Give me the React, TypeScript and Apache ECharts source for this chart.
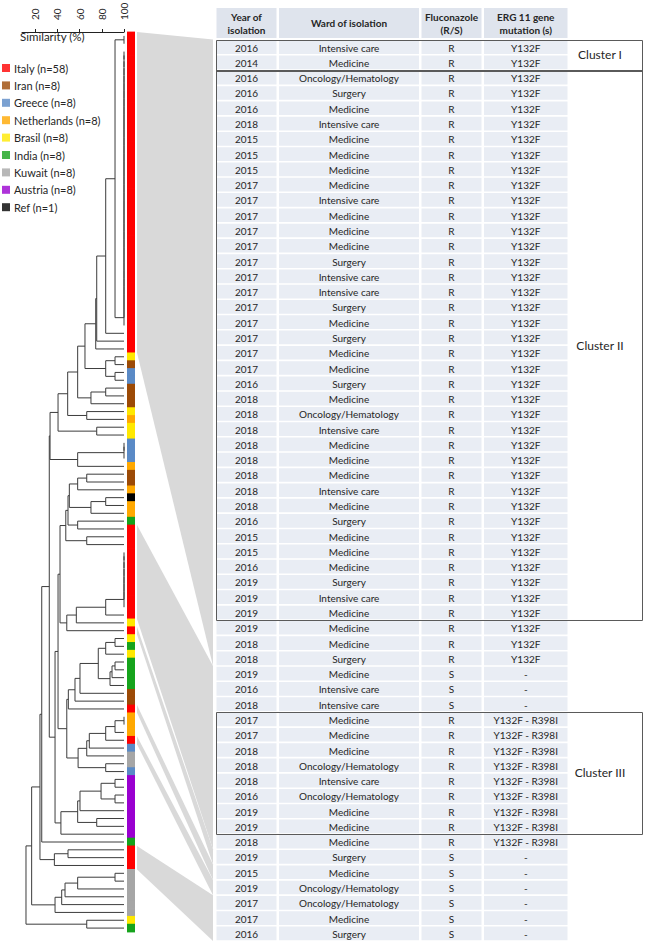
import React, { useEffect, useRef } from 'react';
import * as echarts from 'echarts';

const FONT = 'Lato, "Open Sans", sans-serif';

// ---------- legend / strip ----------
const COUNTRY_NAMES = ['Italy (n=58)', 'Iran (n=8)', 'Greece (n=8)', 'Netherlands (n=8)', 'Brasil (n=8)', 'India (n=8)', 'Kuwait (n=8)', 'Austria (n=8)', 'Ref (n=1)'];
const COUNTRY_COLORS = ['#ff0000', '#9c4a06', '#5a8ac6', '#ffa800', '#ffe800', '#16a31c', '#a6a6a6', '#9a00d0', '#000000'];

// [country index, number of consecutive isolates] from top to bottom of the colour strip
const STRIP_RUNS: [number, number][] = [
  [0, 41], [4, 1], [1, 1], [2, 2], [1, 3], [4, 1], [3, 1], [4, 2], [2, 3], [3, 1], [1, 2], [3, 1], [8, 1], [3, 2], [5, 1],
  [0, 12], [4, 1], [0, 1], [4, 1], [5, 1], [4, 1], [5, 4], [1, 2], [0, 1], [3, 3], [0, 1], [2, 1], [6, 2], [2, 1],
  [7, 8], [5, 1], [0, 3], [6, 6], [4, 1], [5, 1],
];

const SIM_TICKS = [20, 40, 60, 80, 100];

// ---------- dendrogram (similarity %, UPGMA-like) ----------
// node = [similarity, child, child, ...] ; 'L' = one isolate ; {same:n} = n identical isolates (100 %)
const L = 'L';
const TREE: any = [11.6,
  [16.7,
    [24.2,
      [25.8,
        [32.6,
          [33.3,
            [40.5,
              [49.2,
                [58.2,
                  [64.8,
                    [74.5, [75.4, [83.5, [91.9, [100, L, L], { same: 36 }], L], L], L],
                    [83.5, [91.9, L, L], [91.9, L, L]],
                  ],
                  [70.2, [83.5, L, L], L],
                ],
                [66.4, L, L],
              ],
              [75.4, L, L],
            ],
            [58.2, { same: 3 }, L],
          ],
          [37.8,
            [40.5,
              [42.3,
                [47.5,
                  [49.5,
                    [50.7, [58.2, [66.4, L, L], L], [70.2, [83.5, L, L], L]],
                    [58.2, L, L],
                  ],
                  [66.4, L, L],
                ],
                [48.4, [57.0, [83.5, { same: 8 }, L], L], L],
              ],
              [48.4,
                [49.8, [55.8, [60.3, [76.8, [83.5, [91.9, L, L], L], [87.4, [89.2, [91.9, L, L], L], L]], L], L], L],
                [58.6, [66.4, [68.7, [83.5, [91.9, [100, L, L], L], L], L], L], [83.5, L, L]],
              ],
            ],
            [43.1, [58.2, [60.3, [79.3, [91.9, L, L], [91.9, L, L]], L], [75.4, L, L]], L],
          ],
        ],
        L,
      ],
      [37.2, [49.5, L, L], L],
    ],
    [37.8, [43.8, [46.8, [58.2, [91.9, L, L], L], L], L], L],
  ],
  [66.4, L, L],
];

// ---------- table ----------
const HEADERS = ['Year of\nisolation', 'Ward of isolation', 'Fluconazole\n(R/S)', 'ERG 11 gene\nmutation (s)'];
const YEARS = ['2016', '2014', '2016', '2016', '2016', '2018', '2015', '2015', '2015', '2017', '2017', '2017', '2017', '2017', '2017', '2017', '2017', '2017', '2017', '2017', '2017', '2017', '2016', '2018', '2018', '2018', '2018', '2018', '2018', '2018', '2018', '2016', '2015', '2015', '2016', '2019', '2019', '2019', '2019', '2018', '2018', '2019', '2016', '2018', '2017', '2017', '2018', '2018', '2018', '2016', '2019', '2019', '2018', '2019', '2015', '2019', '2017', '2017', '2016'];
const WARDS = ['Intensive care', 'Medicine', 'Oncology/Hematology', 'Surgery', 'Medicine', 'Intensive care', 'Medicine', 'Medicine', 'Medicine', 'Medicine', 'Intensive care', 'Medicine', 'Medicine', 'Medicine', 'Surgery', 'Intensive care', 'Intensive care', 'Surgery', 'Medicine', 'Surgery', 'Medicine', 'Medicine', 'Surgery', 'Medicine', 'Oncology/Hematology', 'Intensive care', 'Medicine', 'Medicine', 'Medicine', 'Intensive care', 'Medicine', 'Surgery', 'Medicine', 'Medicine', 'Medicine', 'Surgery', 'Intensive care', 'Medicine', 'Medicine', 'Medicine', 'Surgery', 'Medicine', 'Intensive care', 'Intensive care', 'Medicine', 'Medicine', 'Medicine', 'Oncology/Hematology', 'Intensive care', 'Oncology/Hematology', 'Medicine', 'Medicine', 'Medicine', 'Surgery', 'Medicine', 'Oncology/Hematology', 'Oncology/Hematology', 'Medicine', 'Surgery'];
const FLUCO = ['R', 'R', 'R', 'R', 'R', 'R', 'R', 'R', 'R', 'R', 'R', 'R', 'R', 'R', 'R', 'R', 'R', 'R', 'R', 'R', 'R', 'R', 'R', 'R', 'R', 'R', 'R', 'R', 'R', 'R', 'R', 'R', 'R', 'R', 'R', 'R', 'R', 'R', 'R', 'R', 'R', 'S', 'S', 'S', 'R', 'R', 'R', 'R', 'R', 'R', 'R', 'R', 'R', 'S', 'S', 'S', 'S', 'S', 'S'];
const ERG11 = ['Y132F', 'Y132F', 'Y132F', 'Y132F', 'Y132F', 'Y132F', 'Y132F', 'Y132F', 'Y132F', 'Y132F', 'Y132F', 'Y132F', 'Y132F', 'Y132F', 'Y132F', 'Y132F', 'Y132F', 'Y132F', 'Y132F', 'Y132F', 'Y132F', 'Y132F', 'Y132F', 'Y132F', 'Y132F', 'Y132F', 'Y132F', 'Y132F', 'Y132F', 'Y132F', 'Y132F', 'Y132F', 'Y132F', 'Y132F', 'Y132F', 'Y132F', 'Y132F', 'Y132F', 'Y132F', 'Y132F', 'Y132F', '-', '-', '-', 'Y132F - R398I', 'Y132F - R398I', 'Y132F - R398I', 'Y132F - R398I', 'Y132F - R398I', 'Y132F - R398I', 'Y132F - R398I', 'Y132F - R398I', 'Y132F - R398I', '-', '-', '-', '-', '-', '-'];

const CLUSTER_NAMES = ['Cluster I', 'Cluster II', 'Cluster III'];
const CLUSTER_FROM = [0, 2, 44];
const CLUSTER_TO = [1, 37, 51];

// [first leaf, last leaf, first table row, last table row]
const LINKS = [[0, 40, 0, 40], [63, 74, 41, 52], [76, 76, 53, 53], [86, 86, 54, 54], [90, 90, 55, 55], [104, 106, 56, 58]];

// ---------- layout constants ----------
const TABLE_W = 427;
const COL_X = [[0.5, 60.5], [63, 203], [205.5, 265.5], [268, 351.5]];
const LABEL_X = 384;
const CELL_BG = '#e9edf4';
const HEAD_BG = '#dfe4ed';
const TXT = '#262626';

function buildLeaves() {
  const out: string[] = [];
  STRIP_RUNS.forEach(([c, n]) => { for (let k = 0; k < n; k++) out.push(COUNTRY_COLORS[c]); });
  return out;
}

function layoutTree(tree: any) {
  const segs: number[][] = [];
  let leaf = 0;
  const visit = (n: any): { s: number; y: number } => {
    if (n === L) { const y = leaf + 0.5; leaf++; return { s: 100, y }; }
    if (n && n.same) {
      let acc = visit(L);
      for (let k = 1; k < n.same; k++) {
        const b = visit(L);
        segs.push([100, acc.y, b.y, acc.s, b.s]);
        acc = { s: 100, y: (acc.y + b.y) / 2 };
      }
      return acc;
    }
    const [s, ...kids] = n;
    let acc = visit(kids[0]);
    for (let k = 1; k < kids.length; k++) {
      const b = visit(kids[k]);
      segs.push([s, acc.y, b.y, acc.s, b.s]);
      acc = { s, y: (acc.y + b.y) / 2 };
    }
    return acc;
  };
  visit(tree);
  return { segs, count: leaf };
}

export default function App() {
  const ref = useRef<HTMLDivElement>(null);
  useEffect(() => {
    const chart = echarts.init(ref.current!, null, { renderer: 'svg' });
    const leafColors = buildLeaves();
    const { segs } = layoutTree(TREE);
    const nLeaves = leafColors.length;
    const cols = [YEARS, WARDS, FLUCO, ERG11];

    const option: any = {
      animation: false,
      backgroundColor: '#ffffff',
      textStyle: { fontFamily: FONT },
      title: {
        text: 'Similarity (%)', left: 20, top: 30.5, padding: 0,
        textStyle: { fontFamily: FONT, fontSize: 11.5, fontWeight: 'normal', color: TXT },
      },
      legend: {
        orient: 'vertical', left: 2, top: 62.5, icon: 'rect', itemWidth: 8, itemHeight: 8, itemGap: 6.4,
        selectedMode: false, padding: 0,
        textStyle: { fontFamily: FONT, fontSize: 11, color: TXT, padding: [0, 0, 0, -1] },
        data: COUNTRY_NAMES,
      },
      grid: [
        { left: 22, top: 32, width: 102, height: 900, containLabel: false, outerBoundsMode: 'none' },
        { left: 127, top: 32, width: 8, height: 900, containLabel: false, outerBoundsMode: 'none' },
        { left: 216, top: 39.5, width: TABLE_W, height: 901.5, containLabel: false, outerBoundsMode: 'none' },
      ],
      xAxis: [
        {
          gridIndex: 0, type: 'value', min: 8, max: 100, position: 'top', offset: 8,
          axisLine: { show: true, lineStyle: { color: '#222', width: 1 } },
          axisTick: { show: true, length: 3, customValues: SIM_TICKS, lineStyle: { color: '#222' } },
          axisLabel: { customValues: SIM_TICKS, rotate: 90, margin: 4, fontSize: 10, fontFamily: FONT, color: TXT },
          splitLine: { show: false },
        },
        { gridIndex: 1, type: 'value', min: 0, max: 1, show: false },
        { gridIndex: 2, type: 'value', min: 0, max: TABLE_W, show: false },
      ],
      yAxis: [
        { gridIndex: 0, type: 'value', min: 0, max: nLeaves, inverse: true, show: false },
        { gridIndex: 1, type: 'category', inverse: true, show: false, data: leafColors.map((_, i) => 'leaf' + i) },
        { gridIndex: 2, type: 'category', inverse: true, show: false, data: YEARS.map((_, i) => 'row' + i) },
      ],
      series: [
        {
          type: 'custom', name: 'dendrogram', xAxisIndex: 0, yAxisIndex: 0, clip: false,
          encode: { x: [0, 3, 4], y: [1, 2] },
          data: segs,
          renderItem: (_p: any, api: any) => {
            const s = api.value(0), ya = api.value(1), yb = api.value(2), sa = api.value(3), sb = api.value(4);
            const pts = [api.coord([sa, ya]), api.coord([s, ya]), api.coord([s, yb]), api.coord([sb, yb])];
            return { type: 'polyline', shape: { points: pts }, style: { stroke: '#3c3c3c', lineWidth: 1, fill: null } };
          },
        },
        {
          type: 'custom', name: 'strip', xAxisIndex: 1, yAxisIndex: 1, clip: false,
          encode: { x: 0, y: 1 },
          data: leafColors.map((_, i) => [1, i]),
          renderItem: (params: any, api: any) => {
            const i = params.dataIndex;
            const p0 = api.coord([0, i]);
            const p1 = api.coord([1, i]);
            const h = api.size([0, 1])[1];
            const color = leafColors[i];
            return {
              type: 'rect',
              shape: { x: p0[0], y: p0[1] - h / 2 - 0.4, width: p1[0] - p0[0], height: h + 0.8 },
              style: { fill: color, stroke: null },
            };
          },
        },
        {
          type: 'custom', name: 'table', xAxisIndex: 2, yAxisIndex: 2, clip: false,
          encode: { x: 0, y: 1 },
          data: YEARS.map((_, i) => [0, i]),
          renderItem: (params: any, api: any) => {
            const r = params.dataIndex;
            const c = api.coord([0, r]);
            const h = api.size([0, 1])[1];
            const children: any[] = [];
            COL_X.forEach(([x0, x1], k) => {
              const a = api.coord([x0, r])[0];
              const b = api.coord([x1, r])[0];
              children.push({ type: 'rect', shape: { x: a, y: c[1] - h / 2 + 0.8, width: b - a, height: h - 1.6 }, style: { fill: CELL_BG } });
              children.push({
                type: 'text',
                style: { text: cols[k][r], x: (a + b) / 2, y: c[1] + 0.5, align: 'center', verticalAlign: 'middle', fontSize: 10, fontFamily: FONT, fill: TXT },
              });
            });
            return { type: 'group', children };
          },
        },
        {
          type: 'custom', name: 'clusters', xAxisIndex: 2, yAxisIndex: 2, clip: false,
          encode: { x: 0, y: 1 },
          data: CLUSTER_FROM.map((f, i) => [0, f, CLUSTER_TO[i]]),
          renderItem: (params: any, api: any) => {
            const i = params.dataIndex;
            const f = CLUSTER_FROM[i], t = CLUSTER_TO[i];
            const h = api.size([0, 1])[1];
            const p0 = api.coord([0, f]);
            const p1 = api.coord([TABLE_W, t]);
            const top = p0[1] - h / 2, bot = p1[1] + h / 2;
            const lx = api.coord([LABEL_X, f])[0];
            return {
              type: 'group',
              children: [
                { type: 'rect', shape: { x: Math.round(p0[0]) + 0.5, y: Math.round(top) + 0.5, width: Math.round(p1[0] - p0[0]) - 1, height: Math.round(bot - top) }, style: { fill: null, stroke: '#5a5a5a', lineWidth: 1 } },
                { type: 'text', style: { text: CLUSTER_NAMES[i], x: lx, y: (top + bot) / 2, align: 'center', verticalAlign: 'middle', fontSize: 12, fontFamily: FONT, fill: TXT } },
              ],
            };
          },
        },
        ...COUNTRY_NAMES.map((n, i) => ({ type: 'scatter', name: n, xAxisIndex: 0, yAxisIndex: 0, data: [], itemStyle: { color: COUNTRY_COLORS[i] } })),
      ],
    };
    chart.setOption(option);

    // connectors and header, positioned through the axes
    const xL = (chart.convertToPixel({ xAxisIndex: 1 } as any, 1) as any) + 2;
    const xR = (chart.convertToPixel({ xAxisIndex: 2 } as any, 0) as any) - 3;
    const leafY = (v: number) => chart.convertToPixel({ yAxisIndex: 0 } as any, v) as any as number;
    const rc0 = chart.convertToPixel({ yAxisIndex: 2 } as any, 0) as any as number;
    const rc1 = chart.convertToPixel({ yAxisIndex: 2 } as any, 1) as any as number;
    const band = rc1 - rc0;
    const rowTop = (r: number) => rc0 + band * r - band / 2;
    const graphics: any[] = LINKS.map(([a, b, c, d]) => ({
      type: 'polygon', z: -1, silent: true,
      shape: { points: [[xL, leafY(a)], [xR, rowTop(c)], [xR, rowTop(d + 1)], [xL, leafY(b + 1)]] },
      style: { fill: '#d9d9d9' },
    }));
    const tx = (v: number) => chart.convertToPixel({ xAxisIndex: 2 } as any, v) as any as number;
    COL_X.forEach(([x0, x1], k) => {
      const a = tx(x0), b = tx(x1);
      graphics.push({ type: 'rect', shape: { x: a, y: 8, width: b - a, height: 30 }, style: { fill: HEAD_BG } });
      graphics.push({
        type: 'text',
        style: { text: HEADERS[k], x: (a + b) / 2, y: 23, align: 'center', verticalAlign: 'middle', fontSize: 10, fontWeight: 'bold', fontFamily: FONT, fill: TXT, lineHeight: 13 },
      });
    });
    chart.setOption({ graphic: graphics });

    return () => chart.dispose();
  }, []);
  return <div ref={ref} style={{ position: 'absolute', left: 0, top: 0, width: 647, height: 944 }} />;
}
